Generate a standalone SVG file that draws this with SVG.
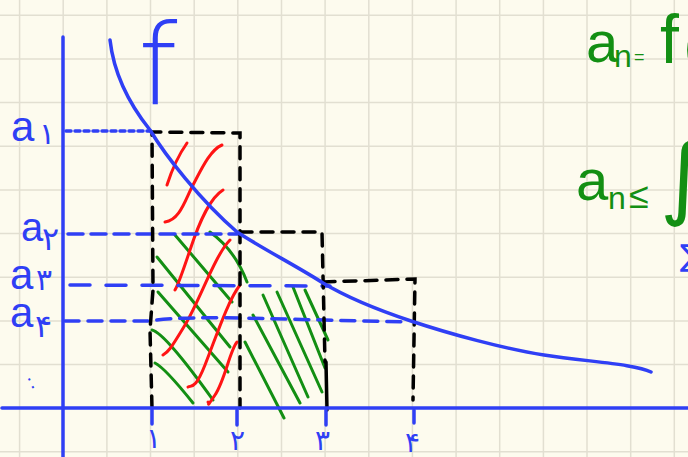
<svg xmlns="http://www.w3.org/2000/svg" width="688" height="457" viewBox="0 0 688 457">
<defs>
<style>
.grid line{stroke:#e2dfd1;stroke-width:1.5}
.blue{stroke:#2f3ff5;fill:none;stroke-width:3.5;stroke-linecap:round}
.blk{stroke:#000;fill:none;stroke-width:3.5;stroke-dasharray:12 9;stroke-linecap:round}
.red{stroke:#ff1414;fill:none;stroke-width:3;stroke-linecap:round}
.grn{stroke:#138f13;fill:none;stroke-width:3;stroke-linecap:round}
.tb{fill:#2f3ff5;font-family:"Liberation Sans",sans-serif}
.tg{fill:#138f13;font-family:"Liberation Sans",sans-serif}
.dig{font-family:"DejaVu Sans",sans-serif}
</style>
</defs>
<rect width="688" height="457" fill="#fdfbee"/>
<g id="grid" class="grid">
<line x1="19.6" y1="0" x2="19.6" y2="457"/><line x1="63.2" y1="0" x2="63.2" y2="457"/><line x1="106.9" y1="0" x2="106.9" y2="457"/><line x1="150.5" y1="0" x2="150.5" y2="457"/><line x1="194.2" y1="0" x2="194.2" y2="457"/><line x1="237.8" y1="0" x2="237.8" y2="457"/><line x1="281.5" y1="0" x2="281.5" y2="457"/><line x1="325.1" y1="0" x2="325.1" y2="457"/><line x1="368.8" y1="0" x2="368.8" y2="457"/><line x1="412.4" y1="0" x2="412.4" y2="457"/><line x1="456.1" y1="0" x2="456.1" y2="457"/><line x1="499.7" y1="0" x2="499.7" y2="457"/><line x1="543.4" y1="0" x2="543.4" y2="457"/><line x1="587" y1="0" x2="587" y2="457"/><line x1="630.7" y1="0" x2="630.7" y2="457"/><line x1="674.3" y1="0" x2="674.3" y2="457"/>
<line x1="0" y1="15.3" x2="688" y2="15.3"/><line x1="0" y1="59" x2="688" y2="59"/><line x1="0" y1="102.6" x2="688" y2="102.6"/><line x1="0" y1="146.3" x2="688" y2="146.3"/><line x1="0" y1="189.9" x2="688" y2="189.9"/><line x1="0" y1="233.6" x2="688" y2="233.6"/><line x1="0" y1="277.2" x2="688" y2="277.2"/><line x1="0" y1="320.9" x2="688" y2="320.9"/><line x1="0" y1="364.5" x2="688" y2="364.5"/><line x1="0" y1="408.2" x2="688" y2="408.2"/><line x1="0" y1="451.8" x2="688" y2="451.8"/>
</g>
<g id="hatch-green">
<path class="grn" d="M175,235 L232,302"/>
<path class="grn" d="M210,232 Q235,250 247,282"/>
<path class="grn" d="M157,257 L230,347"/>
<path class="grn" d="M158,292 L228,372"/>
<path class="grn" d="M152,330 Q165,333 213,400"/>
<path class="grn" d="M155,363 Q165,368 193,403"/>
<path class="grn" d="M245,342 L284,418"/>
<path class="grn" d="M253,315 L300,403"/>
<path class="grn" d="M263,295 L308,397"/>
<path class="grn" d="M277,292 L322,392"/>
<path class="grn" d="M293,287 L325,368"/>
<path class="grn" d="M305,290 L328,340"/>
</g>
<g id="hatch-red">
<path class="red" d="M167,185 Q175,160 187,143"/>
<path class="red" d="M165,222 C180,220 185,200 193,185 S210,150 222,145"/>
<path class="red" d="M223,190 C210,198 200,220 190,250 S178,285 175,290"/>
<path class="red" d="M230,240 C215,255 200,300 185,325 S168,352 163,355"/>
<path class="red" d="M240,285 C228,300 215,340 205,365 S192,385 188,387"/>
<path class="red" d="M237,342 C230,350 225,380 215,395 S210,402 208,402"/>
</g>
<g id="levels">
<path class="blue" d="M66,131 L150,131" stroke-dasharray="5 4"/>
<path class="blue" d="M68,234 L238,234" stroke-dasharray="15 8"/>
<path class="blue" d="M70,285 L330,286" stroke-dasharray="20 16"/>
<path class="blue" d="M65,321 L150,321 Q170,317 240,318 L408,322" stroke-dasharray="14 9"/>
</g>
<g id="rects">
<path class="blk" d="M152,408 L150,330 L153,290 L152,132 L240,133 L240,408"/>
<path class="blk" d="M240,232 L322,232 L325,362"/>
<path d="M326,362 L327,410" stroke="#000" stroke-width="3.5" stroke-linecap="round"/>
<path class="blk" d="M323,282 L415,279 L413,400"/>
</g>
<g id="axes">
<path class="blue" d="M63,37 L63,457"/>
<path class="blue" d="M2,408 L688,408"/>
<path class="blue" d="M152,410 L152,424"/>
<path class="blue" d="M237,410 L237,425"/>
<path class="blue" d="M326,410 L326,425"/>
<path class="blue" d="M414,410 L414,423"/>
</g>
<g id="curve-f">
<path class="blue" d="M110,40 C114,75 130,105 150,130 C165,155 200,200 237,232 C265,250 300,268 323,283 C348,298 381,311 411,321 C450,334 505,349 544,355 C590,362 635,364 651,372"/>
</g>
<g id="labels">
<text class="tb dig" x="138" y="104" font-weight="200" font-size="112">f</text>
<text class="tb" x="11" y="141" font-size="42">a</text><text class="tb dig" x="39" y="144" font-size="30">۱</text>
<text class="tb" x="21" y="241" font-size="40">a</text><text class="tb dig" x="42" y="250" font-size="32">۲</text>
<text class="tb" x="10" y="289" font-size="42">a</text><text class="tb dig" x="36" y="290" font-size="30">۳</text>
<text class="tb" x="10" y="327" font-size="42">a</text><text class="tb dig" x="35" y="337" font-size="32">۴</text>
<text class="tb" x="27" y="388" font-size="20" transform="rotate(-25 32 380)">:</text>
<text class="tb dig" x="146" y="448" font-size="28">۱</text>
<text class="tb dig" x="230" y="450" font-size="28">۲</text>
<text class="tb dig" x="315" y="450" font-size="28">۳</text>
<text class="tb dig" x="405" y="452" font-size="28">۴</text>
<text class="tg" x="586" y="62" font-size="58">a</text>
<text class="tg" x="614" y="67" font-size="32">n</text>
<text class="tg" x="634" y="63" font-size="18">=</text>
<text class="tg" x="660" y="63" font-size="68">f</text>
<text class="tg" x="684" y="63" font-size="50">(</text>
<text class="tg" x="576" y="200" font-size="58">a</text>
<text class="tg" x="608" y="209" font-size="32">n</text>
<text class="tg" x="629" y="208" font-size="36">≤</text>
<text class="tg dig" x="660" y="208" font-size="90">∫</text>
<text class="tb dig" x="680" y="266" font-size="30">∑</text>
</g>
</svg>
